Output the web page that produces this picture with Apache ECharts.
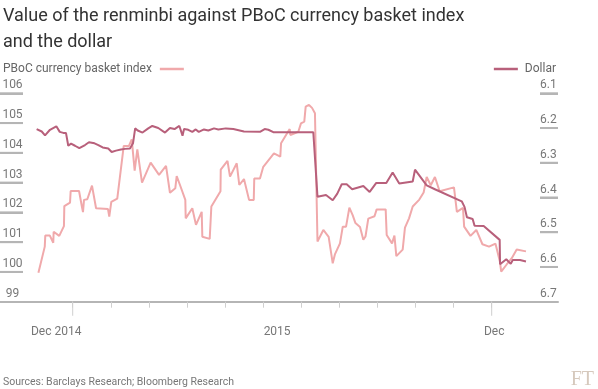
<!DOCTYPE html>
<html><head><meta charset="utf-8">
<script src="https://cdn.jsdelivr.net/npm/echarts@6/dist/echarts.min.js"></script>
<style>html,body{margin:0;padding:0;background:#fff}#c{width:598px;height:389px}</style>
</head><body><div id="c"></div>
<script>
// x values: days from the "Dec 2014" tick
const basketDays = [-27,-22,-21.6,-18,-15.3,-15,-10.6,-6.9,-6.6,-2.1,-1.6,5,7.3,8.1,8.9,11.5,15.2,18.4,27.8,28.8,30.4,35.1,40.2,44.3,46.5,48.8,50.9,54.6,61.4,68,73.5,76.6,80.8,81.9,84.5,88.7,89,94.2,97.1,101.6,102.1,107.9,109.2,116.4,116.6,121.9,123.9,129.2,131.2,134.9,138.9,142.6,143,147.5,150.1,158.5,163.5,164.1,170.9,171.4,177.7,179.8,182.4,183.5,186.1,188.5,190.8,192.8,197.4,201.6,204.8,206.6,210.5,212.7,215.3,217.9,220.5,222.7,226.3,228.9,230.6,232.8,237.7,239.4,246.5,247.3,251.5,253.4,254.9,259.9,261.7,264.9,267.8,273,276.4,278.8,282,285.3,289,300.3,302.6,307.4,308.3,313.3,317.9,322.7,327.9,333,336.5,337.5,341.8,345.8,349.7,357];
const basketValues = [99.97,100.85,101.22,101.22,100.98,101.35,101.21,101.54,102.21,102.33,102.72,102.72,102.18,102.01,102.42,102.44,102.90,102.14,102.11,101.86,102.35,102.46,104.23,104.23,104.45,103.40,104.12,103.00,103.67,103.26,103.56,102.66,102.81,103.22,102.92,102.42,101.80,102.14,101.58,102.02,101.18,101.11,102.20,102.71,103.44,103.73,103.20,103.65,102.92,103.12,102.42,102.42,103.14,103.14,103.53,103.98,103.87,104.32,104.80,104.60,104.71,104.99,105.05,105.55,105.61,105.51,105.33,101.02,101.41,101.18,100.29,100.60,100.96,101.52,101.52,102.16,101.91,101.64,101.51,101.08,101.19,101.79,101.87,102.10,102.10,101.24,100.96,101.22,100.53,100.75,101.49,101.80,102.20,102.43,102.67,103.19,102.91,103.19,102.71,102.84,102.02,102.15,101.52,101.21,101.41,100.93,100.85,100.95,100.34,100.01,100.25,100.46,100.75,100.69];
const dollarDays = [-28.4,-24.4,-21.8,-17.9,-12.9,-10.2,-7.4,-5.3,-3.5,-1.3,1.8,5.2,9.7,12.8,17.2,20.2,23.6,28,30.7,34.1,38,41.2,45.1,47.5,49.2,51.2,55,59.5,62.7,67.4,72.7,76.6,80.2,84,86.5,87.7,91,94.2,96.9,99.3,103.4,106.8,111.3,114.7,120.6,126.5,134.9,147.5,151.2,154.1,158,189.5,192.8,199.5,204.8,208.4,211.9,215.8,220.1,228.9,233.9,239.1,247,252,257.2,267.8,269.6,278.8,285.7,306.4,308.6,310.5,315,316.5,323.7,336.3,336.6,341.5,345,346.6,352.3,357];
const dollarValues = [6.203,6.210,6.221,6.205,6.195,6.211,6.214,6.214,6.251,6.245,6.251,6.258,6.249,6.241,6.244,6.249,6.256,6.259,6.269,6.265,6.262,6.260,6.259,6.244,6.201,6.207,6.213,6.201,6.194,6.200,6.213,6.200,6.203,6.194,6.222,6.203,6.205,6.211,6.204,6.211,6.204,6.207,6.201,6.204,6.201,6.203,6.210,6.211,6.203,6.205,6.212,6.212,6.398,6.393,6.408,6.389,6.362,6.362,6.376,6.367,6.384,6.358,6.358,6.328,6.360,6.354,6.320,6.365,6.377,6.411,6.427,6.457,6.462,6.481,6.482,6.522,6.592,6.578,6.591,6.580,6.580,6.584];

const leftTicks = [99,100,101,102,103,104,105,106];
const rightTicks = [6.1,6.2,6.3,6.4,6.5,6.6,6.7];
const xTickDays = [0,30,60,90,120,150,180,210,240,270,300,330];
const xMajorDays = [0,330];
const xLabelDays = [-13,161,332];
const xLabels = ['Dec 2014','2015','Dec'];
const xMin = -57.26, xMax = 382.23;

const FONT = 'Roboto';
const RULE_COLOR = '#b5b5b5';
const TICK_COLOR = '#cfcfcf';
const GRID = {left:0, right:40, top:93.3, bottom:87.3};
const W = 598, H = 389;

const textGraphics = [
  {type:'text', left:3, top:377, style:{text:'Sources: Barclays Research; Bloomberg Research', fontFamily:FONT, fontSize:10.5, fill:'#777'}},
  {type:'text', right:4, top:370, style:{text:'FT', fontFamily:'Liberation Serif', fontSize:20, fill:'#d6c9bd'}}
];

const chart = echarts.init(document.getElementById('c'), null, {renderer:'canvas', width:W, height:H});
chart.setOption({
  animation:false,
  backgroundColor:'#fff',
  textStyle:{fontFamily:FONT},
  title:{
    text:'Value of the renminbi against PBoC currency basket index\nand the dollar',
    left:3, top:-2, padding:[5,5,5,0],
    textStyle:{fontFamily:FONT, fontSize:18, fontWeight:'normal', color:'#333', lineHeight:26}
  },
  legend:[
    {data:['PBoC currency basket index'], left:3, top:63, padding:0, align:'right', icon:'rect',
     itemWidth:24, itemHeight:2.5, textStyle:{fontFamily:FONT, fontSize:12, color:'#666', padding:[0,3,0,0]}},
    {data:['Dollar'], right:42, top:63, padding:0, align:'left', icon:'rect',
     itemWidth:24, itemHeight:2.5, textStyle:{fontFamily:FONT, fontSize:12, color:'#666', padding:[0,0,0,2]}}
  ],
  grid:Object.assign({outerBoundsMode:'none'}, GRID),
  xAxis:{type:'value', min:xMin, max:xMax, position:'bottom',
     axisLine:{show:true, onZero:false, lineStyle:{color:RULE_COLOR, width:2}},
     axisTick:{show:true, customValues:xTickDays, length:6, lineStyle:{color:TICK_COLOR, width:1}},
     axisLabel:{show:true, customValues:xLabelDays, margin:24, fontSize:12, color:'#777', fontFamily:FONT,
       formatter:function(v){ const i = xLabelDays.indexOf(v); return i>=0 ? xLabels[i] : ''; }},
     splitLine:{show:false}},
  yAxis:[
    {type:'value', position:'left', offset:-23, min:99, max:106, interval:1,
     axisLine:{show:false, onZero:false},
     axisTick:{show:true, inside:false, length:23, customValues:leftTicks, lineStyle:{color:RULE_COLOR, width:2}},
     axisLabel:{show:true, showMinLabel:true, showMaxLabel:true, customValues:leftTicks, align:'center', margin:10.5,
       verticalAlign:'bottom', padding:[0,0,2,0], fontSize:12, color:'#777', fontFamily:FONT},
     splitLine:{show:false}},
    {type:'value', position:'right', offset:-18, min:6.1, max:6.7, inverse:true,
     axisLine:{show:false, onZero:false},
     axisTick:{show:true, inside:false, length:18, customValues:rightTicks, lineStyle:{color:RULE_COLOR, width:2}},
     axisLabel:{show:true, showMinLabel:true, showMaxLabel:true, customValues:rightTicks, align:'left', margin:0,
       verticalAlign:'bottom', padding:[0,0,2,0], fontSize:12, color:'#777', fontFamily:FONT,
       formatter:function(v){ return Number(v).toFixed(1); }},
     splitLine:{show:false}}
  ],
  series:[
    {name:'PBoC currency basket index', type:'line', yAxisIndex:0,
     data:basketDays.map((d,i)=>[d, basketValues[i]]),
     showSymbol:false, symbol:'none', lineStyle:{color:'#f0a9ab', width:2}, itemStyle:{color:'#f0a9ab'}, z:2},
    {name:'Dollar', type:'line', yAxisIndex:1,
     data:dollarDays.map((d,i)=>[d, dollarValues[i]]),
     showSymbol:false, symbol:'none', lineStyle:{color:'#b8607b', width:2}, itemStyle:{color:'#b8607b'}, z:3}
  ],
  graphic:textGraphics
});

// Short rules under each y label and the long major date ticks, positioned through the chart's own scales
const gridLeft = GRID.left, gridRight = W - GRID.right, gridBottom = H - GRID.bottom;
const extras = [];
leftTicks.slice(1).forEach(function(v){
  const y = chart.convertToPixel({yAxisIndex:0}, v);
  extras.push({type:'rect', silent:true, z:100, shape:{x:gridLeft, y:y - 1, width:23, height:2},
               style:{fill:RULE_COLOR}});
});
rightTicks.slice(0, -1).forEach(function(v){
  const y = chart.convertToPixel({yAxisIndex:1}, v);
  extras.push({type:'rect', silent:true, z:100, shape:{x:gridRight - 18, y:y - 1, width:18, height:2},
               style:{fill:RULE_COLOR}});
});
xMajorDays.forEach(function(d){
  const x = chart.convertToPixel({xAxisIndex:0}, d);
  extras.push({type:'rect', silent:true, z:100, shape:{x:x - 0.5, y:gridBottom, width:1, height:14},
               style:{fill:TICK_COLOR}});
});
chart.setOption({graphic: textGraphics.concat(extras)});
</script>
</body></html>
